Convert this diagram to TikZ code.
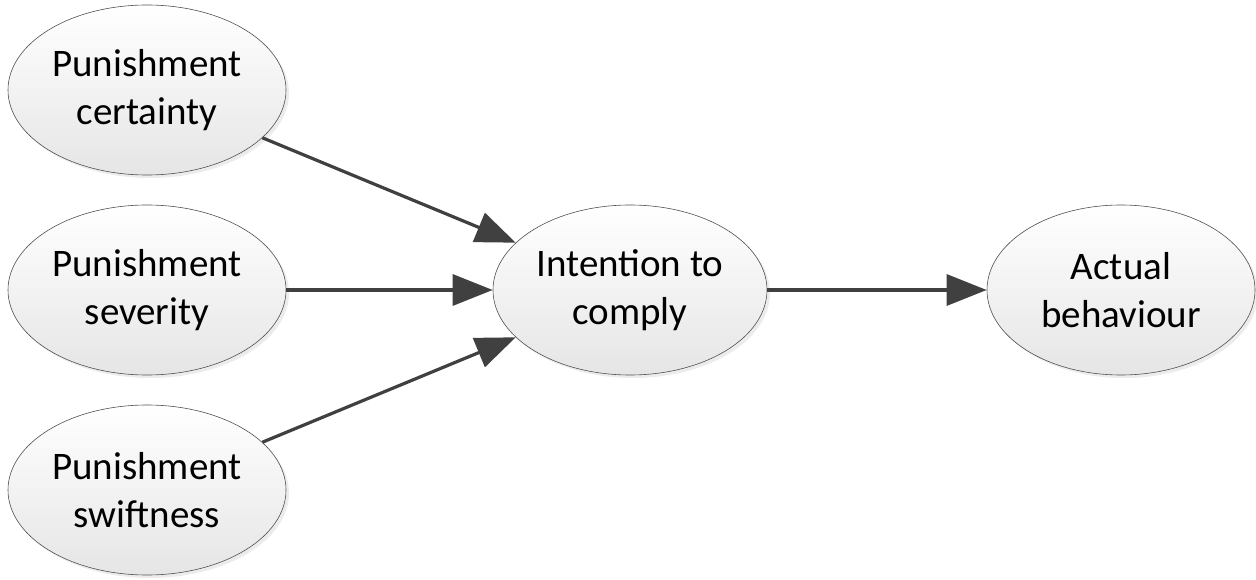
\documentclass[tikz,border=0pt]{standalone}
\usepackage{fontspec}
\setmainfont{Carlito}
\usetikzlibrary{shapes.geometric,arrows.meta,shadows}
\definecolor{arrowgray}{HTML}{404040}
\definecolor{rimgray}{HTML}{505050}
\begin{document}
\begin{tikzpicture}[x=1pt,y=-1pt,
  construct/.style={ellipse, draw=rimgray, line width=0.6pt,
    top color=white, bottom color=black!10,
    minimum width=278pt, minimum height=170pt, inner sep=0pt,
    align=center, font=\fontsize{39}{47.5}\selectfont,
    drop shadow={opacity=0.15, shadow xshift=3pt, shadow yshift=-3pt}},
  link/.style={draw=arrowgray, line width=3.2pt,
    -{Triangle[length=40pt,width=31pt]}}]
\useasboundingbox (0,0) rectangle (1256,580);
\node[construct] (cert) at (147,90) {Punishment\\certainty};
\node[construct] (sev) at (147,290) {Punishment\\severity};
\node[construct] (swift) at (147,490) {Punishment\\swiftness};
\node[construct, minimum width=274pt] (int) at (630,290) {Intention to\\comply};
\node[construct, minimum width=268pt] (act) at (1121,290) {Actual\\behaviour};
\draw[link] (cert) -- (int);
\draw[link] (sev) -- (int);
\draw[link] (swift) -- (int);
\draw[link] (int) -- (act);
\end{tikzpicture}
\end{document}
